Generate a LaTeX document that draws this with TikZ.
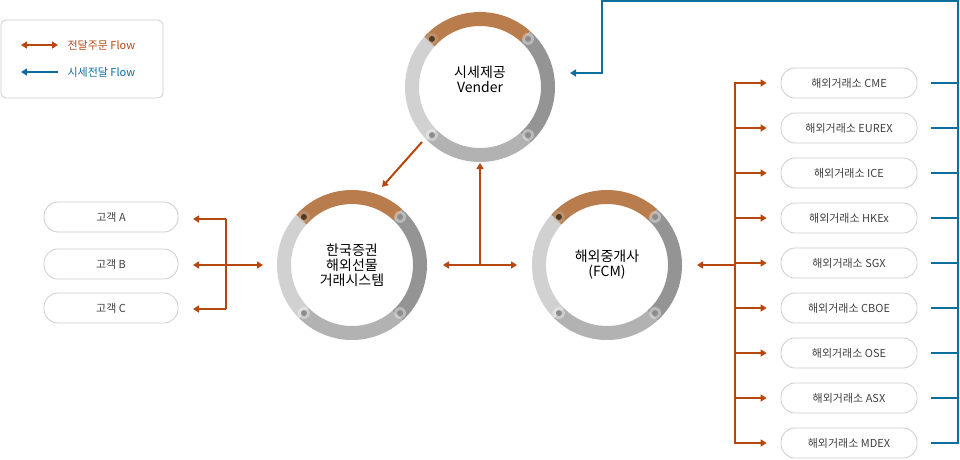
\documentclass[tikz,border=0pt]{standalone}
\usepackage{fontspec}
\setmainfont{Noto Sans CJK KR}
\usetikzlibrary{arrows.meta}
\definecolor{ord}{HTML}{B5470F}
\definecolor{blu}{HTML}{0E6E9E}
\definecolor{ringo}{HTML}{B97C4C}
\tikzset{
  x=1pt,y=-1pt,
  oline/.style={draw=ord,line width=2pt},
  bline/.style={draw=blu,line width=2pt},
  tip/.style={-{Triangle[length=6pt,width=7pt]}},
  dtip/.style={{Triangle[length=6pt,width=7pt]}-{Triangle[length=6pt,width=7pt]}},
  pill/.style={draw=black!20,rounded corners=14pt,minimum width=136pt,minimum height=30pt,font=\fontsize{11}{12}\selectfont,text=black!75,line width=0.8pt},
  ctext/.style={align=center,font=\fontsize{14}{18}\selectfont,text=black},
  ring/.pic={
    \draw[line width=14pt,draw=black!18] (138:68pt) arc[start angle=138,end angle=225,radius=68pt];
    \draw[line width=14pt,draw=black!30] (225:68pt) arc[start angle=225,end angle=312,radius=68pt];
    \draw[line width=14pt,draw=black!42] (312:68pt) arc[start angle=312,end angle=408,radius=68pt];
    \draw[line width=14pt,draw=ringo] (48:68pt) arc[start angle=48,end angle=138,radius=68pt];
    \foreach \a in {45,-45,-135}{\fill[white,opacity=0.35] (\a:68pt) circle (6pt); \fill[black!45] (\a:68pt) circle (3pt);}
    \fill[black!25,opacity=0.3] (135:68pt) circle (6pt); \fill[black!55!ringo] (135:68pt) circle (3pt);
  }
}
\begin{document}
\begin{tikzpicture}
\useasboundingbox (0,0) rectangle (960,459);
% legend
\node[draw=black!20,rounded corners=5pt,minimum width=162pt,minimum height=78pt,line width=0.8pt] (lg) at (82,59) {};
\coordinate (l1a) at (21,45); \coordinate (l1b) at (58,45);
\draw[oline,dtip] (l1a) -- (l1b);
\node[anchor=west,text=ord,font=\fontsize{11}{12}\selectfont] (lt1) at (64,45) {전달주문 Flow};
\coordinate (l2a) at (21,72); \coordinate (l2b) at (58,72);
\draw[bline,tip] (l2b) -- (l2a);
\node[anchor=west,text=blu,font=\fontsize{11}{12}\selectfont] (lt2) at (64,72) {시세전달 Flow};
% circles
\pic at (480,87) {ring};
\pic at (352,265) {ring};
\pic at (607,265) {ring};
\node[ctext] (v) at (480,79) {시세제공\\[-3pt]Vender};
\node[ctext] (k) at (352,265) {한국증권\\[-3pt]해외선물\\[-3pt]거래시스템};
\node[ctext] (f) at (607,265) {해외중개사\\[-3pt](FCM)};
% customers
\node[pill,minimum width=134pt] (ca) at (111,217) {고객 A};
\node[pill,minimum width=134pt] (cb) at (111,264) {고객 B};
\node[pill,minimum width=134pt] (cc) at (111,308) {고객 C};
\coordinate (cj) at (226,265);
\coordinate (ct) at (226,219); \coordinate (cbt) at (226,309);
\draw[oline] (ct) -- (cbt);
\draw[oline,tip] (ct) -- (193,219);
\draw[oline,tip] (cj) -- (193,265);
\draw[oline,tip] (cbt) -- (193,309);
\draw[oline,tip] (cj) -- (263,265);
% korea - fcm
\draw[oline,dtip] (443,265) -- (517,265);
\coordinate (kf) at (480,265);
\draw[oline,tip] (kf) -- (480,163);
\draw[oline,tip] (422,142) -- (382,187);
% exchanges
\coordinate (ex) at (735,265);
\draw[oline,tip] (ex) -- (697,265);
\draw[oline] (735,82) -- (735,444);
\foreach \n/\y/\t in {1/83/CME,2/128/EUREX,3/173/ICE,4/218/HKEx,5/263/SGX,6/308/CBOE,7/353/OSE,8/398/ASX,9/443/MDEX}{
  \node[pill] (e\n) at (849,\y) {해외거래소 \t};
  \draw[oline,tip] (735,\y) -- ([xshift=-14pt]e\n.west);
  \draw[bline] (931,\y) -- (958,\y);
}
\draw[bline,tip] (958,444) -- (958,1) -- (602,1) -- (602,73) -- (570,73);
\end{tikzpicture}
\end{document}
